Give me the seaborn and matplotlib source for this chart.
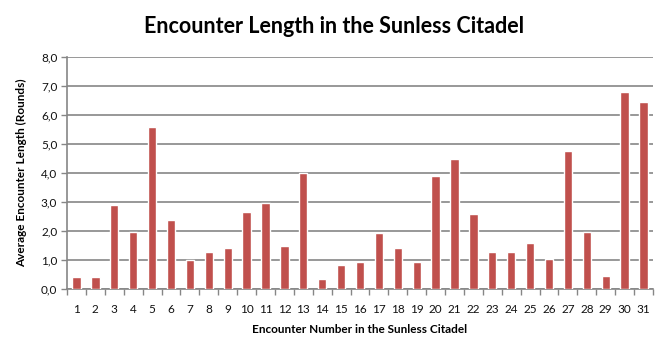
import numpy as np
import pandas as pd
import seaborn as sns
import matplotlib.pyplot as plt
from matplotlib.ticker import FuncFormatter, FixedLocator

# Dati
encounters = [str(i) for i in range(1, 32)]
avg_rounds = [0.41, 0.41, 2.90, 1.98, 5.59, 2.38, 1.00, 1.28, 1.42, 2.66,
              2.98, 1.48, 4.00, 0.35, 0.83, 0.93, 1.93, 1.42, 0.93, 3.90,
              4.49, 2.59, 1.28, 1.28, 1.59, 1.04, 4.76, 1.97, 0.45, 6.80,
              6.46]
y_ticks = [0, 1, 2, 3, 4, 5, 6, 7, 8]

df = pd.DataFrame({"encounter": encounters, "rounds": avg_rounds})

sns.set_theme(style="white")
plt.rcParams['font.family'] = ['Lato', 'DejaVu Sans']
plt.rcParams['text.color'] = 'black'
plt.rcParams['axes.labelcolor'] = 'black'

fig = plt.figure(figsize=(6.68, 3.52), dpi=100)
ax = fig.add_axes([67 / 668, 1 - 289 / 352, (653 - 67) / 668, (289 - 57) / 352])

sns.barplot(data=df, x="encounter", y="rounds", color="#C0504D",
            saturation=1, width=0.44, ax=ax, zorder=3)

ax.set_ylim(0, 8)
ax.set_xlim(-0.5, len(encounters) - 0.5)
ax.set_yticks(y_ticks)
ax.yaxis.set_major_formatter(FuncFormatter(lambda v, p: f"{v:.1f}".replace(".", ",")))
ax.grid(axis="y", color="#868686", linewidth=1.2, zorder=0)

# tacche sull'asse x tra le categorie
ax.xaxis.set_minor_locator(FixedLocator(np.arange(-0.5, len(encounters), 1)))
ax.tick_params(axis="x", which="major", length=0, labelsize=8.5, colors="#111111", pad=11)
ax.tick_params(axis="x", which="minor", length=4, width=1, color="#868686", bottom=True)
ax.tick_params(axis="y", which="major", length=4, width=1, color="#868686", left=True,
               labelsize=8.5, labelcolor="#111111", pad=3)

for s in ["top", "right"]:
    ax.spines[s].set_visible(False)
for s in ["left", "bottom"]:
    ax.spines[s].set_color("#868686")
    ax.spines[s].set_linewidth(1.2)

ax.set_xlabel("Encounter Number in the Sunless Citadel", fontsize=8.5, fontweight="bold", labelpad=6)
ax.set_ylabel("Average Encounter Length (Rounds)", fontsize=8.5, fontweight="bold", labelpad=10)
fig.suptitle("Encounter Length in the Sunless Citadel", fontsize=15.5, fontweight="bold",
             y=0.955, color="black")

fig.savefig("out.png", dpi=100)
